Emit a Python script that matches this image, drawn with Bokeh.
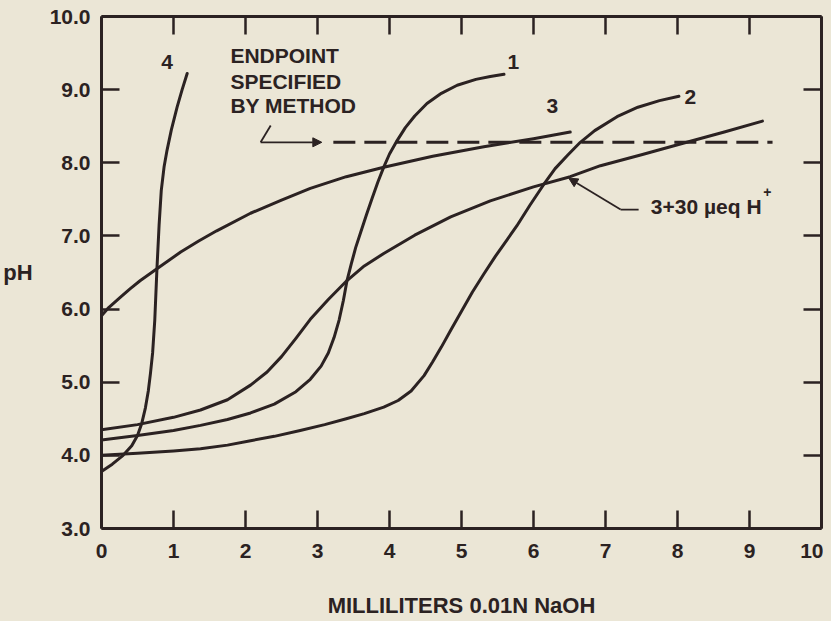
from bokeh.plotting import figure
from bokeh.models import Range1d, LinearAxis, FixedTicker, PrintfTickFormatter, Arrow, NormalHead
from bokeh.core.properties import value
from bokeh.embed import file_html
from bokeh.resources import INLINE

# ---- data ----
c1_x = [0.0, 0.5, 1.0, 1.375, 1.75, 2.07, 2.4, 2.7, 2.9, 3.05, 3.15, 3.23, 3.3, 3.36, 3.41, 3.47, 3.53, 3.60,
        3.68, 3.76, 3.84, 3.92, 4.0, 4.11, 4.22, 4.35, 4.52, 4.72, 4.94, 5.2, 5.4, 5.59]
c1_y = [4.21, 4.27, 4.34, 4.41, 4.49, 4.58, 4.70, 4.87, 5.04, 5.22, 5.40, 5.61, 5.85, 6.12, 6.39, 6.62, 6.84, 7.05,
        7.29, 7.52, 7.74, 7.94, 8.12, 8.31, 8.48, 8.64, 8.81, 8.95, 9.06, 9.14, 9.18, 9.21]

c2_x = [0.0, 0.5, 1.0, 1.375, 1.75, 2.07, 2.4, 2.76, 3.1, 3.4, 3.65, 3.92, 4.12, 4.3, 4.48, 4.6, 4.72, 4.85, 5.0,
        5.15, 5.31, 5.47, 5.62, 5.77, 5.95, 6.14, 6.3, 6.48, 6.65, 6.85, 7.16, 7.45, 7.75, 8.02]
c2_y = [4.0, 4.03, 4.06, 4.09, 4.14, 4.20, 4.26, 4.34, 4.42, 4.50, 4.57, 4.66, 4.75, 4.88, 5.09, 5.28, 5.48, 5.71, 5.97,
        6.23, 6.48, 6.72, 6.93, 7.14, 7.42, 7.70, 7.92, 8.11, 8.28, 8.44, 8.63, 8.76, 8.85, 8.91]

c3_x = [0.0, 0.1, 0.26, 0.4, 0.54, 0.77, 1.10, 1.35, 1.6, 2.07, 2.5, 2.90, 3.4, 3.92, 4.6, 5.31, 6.0, 6.51]
c3_y = [5.91, 6.02, 6.16, 6.28, 6.39, 6.55, 6.78, 6.93, 7.07, 7.31, 7.49, 7.65, 7.81, 7.94, 8.09, 8.22, 8.33, 8.42]

c4_x = [0.0, 0.15, 0.3, 0.42, 0.5, 0.56, 0.61, 0.65, 0.68, 0.71, 0.74, 0.77, 0.80, 0.83, 0.87, 0.91, 0.97, 1.05, 1.12, 1.19]
c4_y = [3.78, 3.88, 4.0, 4.13, 4.27, 4.44, 4.65, 4.88, 5.12, 5.40, 5.85, 6.55, 7.15, 7.62, 7.95, 8.17, 8.45, 8.76, 9.0, 9.22]

c5_x = [0.0, 0.5, 1.0, 1.375, 1.75, 2.07, 2.3, 2.5, 2.7, 2.90, 3.15, 3.41, 3.65, 3.92, 4.35, 4.85, 5.4, 6.0, 6.51,
        6.93, 7.5, 8.09, 8.65, 9.18]
c5_y = [4.35, 4.42, 4.52, 4.62, 4.76, 4.96, 5.14, 5.35, 5.60, 5.86, 6.13, 6.39, 6.59, 6.76, 7.01, 7.26, 7.48, 7.67, 7.81,
        7.96, 8.11, 8.27, 8.42, 8.57]

endpoint_ph = 8.28
endpoint_x = [3.22, 9.32]

curve_labels = ["1", "2", "3", "4"]
curve_label_x = [5.72, 8.18, 6.26, 0.91]
curve_label_y = [9.38, 8.90, 8.77, 9.38]

note_lines = ["ENDPOINT", "SPECIFIED", "BY METHOD"]
note_x = [1.79, 1.79, 1.79]
note_y = [9.46, 9.11, 8.78]

x_ticks = list(range(0, 11))
y_ticks = [3, 4, 5, 6, 7, 8, 9, 10]

INK = "#2b2222"
BG = "#ebe6d6"
FONT = "Liberation Sans"
FS = "21px"

p = figure(frame_width=720, frame_height=512, output_backend="svg", toolbar_location=None,
           x_range=Range1d(0, 10), y_range=Range1d(3, 10),
           min_border_left=101, min_border_top=16, min_border_right=2, min_border_bottom=60)
p.background_fill_color = BG
p.border_fill_color = BG
p.outline_line_color = None
p.grid.visible = False

def style_axis(ax, labels=True):
    ax.axis_line_color = INK
    ax.axis_line_width = 3
    ax.major_tick_line_color = INK
    ax.major_tick_line_width = 2.5
    ax.major_tick_in = 18
    ax.major_tick_out = 0
    ax.minor_tick_line_color = None
    ax.major_label_text_font = FONT
    ax.major_label_text_font_style = "bold"
    ax.major_label_text_color = INK
    ax.major_label_text_font_size = FS
    ax.axis_label_text_font = FONT
    ax.axis_label_text_font_style = "bold"
    ax.axis_label_text_color = INK
    ax.axis_label_text_font_size = "22px"

xa = p.xaxis[0]
ya = p.yaxis[0]
style_axis(xa)
style_axis(ya)
xa.ticker = FixedTicker(ticks=x_ticks)
ya.ticker = FixedTicker(ticks=y_ticks)
ya.formatter = PrintfTickFormatter(format="%.1f")
xa.major_label_standoff = 15
ya.major_label_standoff = 11
xa.axis_label = "MILLILITERS 0.01N NaOH"
xa.axis_label_standoff = 32
ya.axis_label = "pH"
ya.axis_label_orientation = "horizontal"
ya.axis_label_standoff = 14

top = LinearAxis(ticker=FixedTicker(ticks=x_ticks))
right = LinearAxis(ticker=FixedTicker(ticks=y_ticks))
for ax, ticks in ((top, x_ticks), (right, y_ticks)):
    style_axis(ax, labels=False)
    ax.major_label_overrides = {t: "" for t in ticks}
    ax.major_label_standoff = 0
p.add_layout(top, "above")
p.add_layout(right, "right")

for xs, ys in [(c1_x, c1_y), (c2_x, c2_y), (c3_x, c3_y), (c4_x, c4_y), (c5_x, c5_y)]:
    p.line(xs, ys, line_color=INK, line_width=3, line_join="round", line_cap="round")

# endpoint dashed line
p.line(endpoint_x, [endpoint_ph, endpoint_ph], line_color=INK, line_width=3, line_dash="22 9")

# labels
p.text(curve_label_x, curve_label_y, text=curve_labels, text_font=value(FONT), text_font_style="bold",
       text_font_size=FS, text_color=INK, text_align="center", text_baseline="middle")
p.text(note_x, note_y, text=note_lines, text_font=value(FONT), text_font_style="bold",
       text_font_size=FS, text_color=INK, text_align="left", text_baseline="middle")

# endpoint pointer
p.line([2.35, 2.21], [8.51, endpoint_ph], line_color=INK, line_width=1.8)
p.add_layout(Arrow(x_start=2.21, y_start=endpoint_ph, x_end=3.06, y_end=endpoint_ph,
                   line_color=INK, line_width=1.8,
                   end=NormalHead(size=9, fill_color=INK, line_color=INK)))

# 3+30 ueq H+ pointer
p.line([7.46, 7.21], [7.36, 7.36], line_color=INK, line_width=1.8)
p.add_layout(Arrow(x_start=7.21, y_start=7.36, x_end=6.49, y_end=7.79,
                   line_color=INK, line_width=1.8,
                   end=NormalHead(size=9, fill_color=INK, line_color=INK)))
p.text([7.63], [7.40], text=["3+30 \u00b5eq H"], text_font=value(FONT), text_font_style="bold",
       text_font_size=FS, text_color=INK, text_align="left", text_baseline="middle")
p.text([9.19], [7.60], text=["+"], text_font=value(FONT), text_font_style="bold",
       text_font_size="14px", text_color=INK, text_align="left", text_baseline="middle")

html = file_html(p, INLINE)
html = html.replace("<head>", "<head><style>body{background:%s;}</style>" % BG, 1)
open("out.html", "w").write(html)
